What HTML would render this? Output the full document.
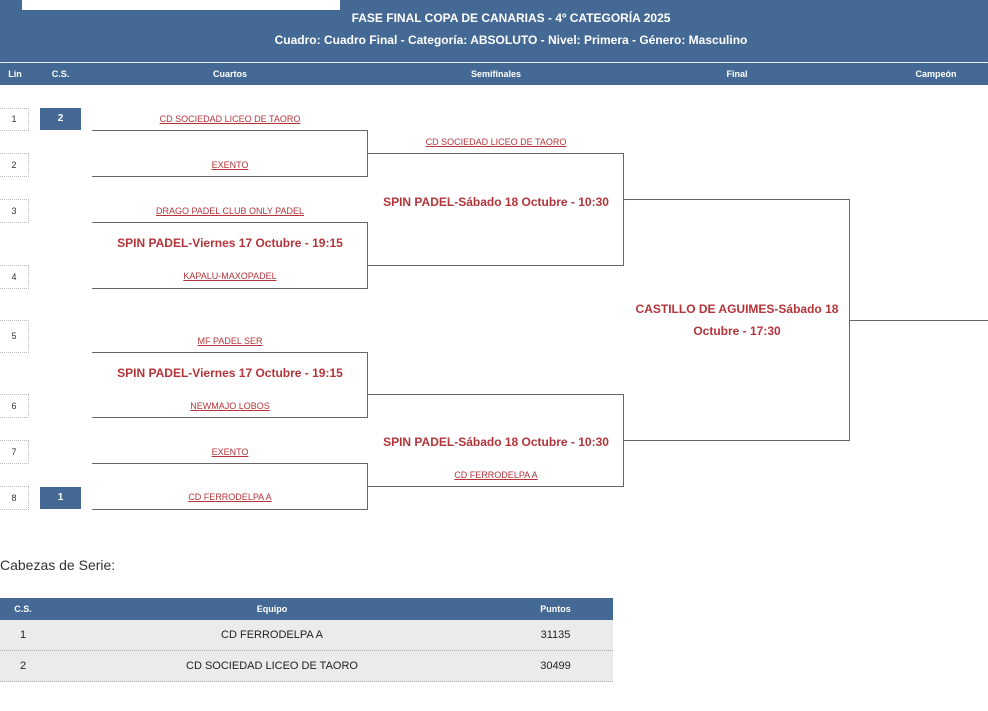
<!DOCTYPE html>
<html><head><meta charset="utf-8"><style>
body{margin:0;width:988px;height:711px;position:relative;overflow:hidden;background:#fff;font-family:"Liberation Sans",Arial,sans-serif;}
.a{position:absolute}
.hd{background:#446994;color:#fff;font-weight:bold}
.c{position:absolute;text-align:center;white-space:nowrap}
.tm{font-size:9px;color:#b5343a;text-decoration:underline;line-height:12px}
.mt{font-size:12px;font-weight:bold;color:#b5343a;line-height:14px}
.h{position:absolute;height:0;border-top:1px solid #666}
.v{position:absolute;width:0;border-left:1px solid #666}
.lb{position:absolute;left:0;width:29px;border:1px dotted #bbb;border-left:none;font-size:9px;color:#333;text-align:center;box-sizing:border-box}
.cs{position:absolute;left:40px;width:41px;height:22px;background:#446994;color:#fff;font-size:10px;font-weight:bold;text-align:center;line-height:22px}
</style></head><body>
<div class="a hd" style="left:0;top:0;width:988px;height:62px"></div>
<div class="a" style="left:22px;top:0;width:318px;height:10px;background:#fff"></div>
<div class="c" style="left:350px;width:322px;top:11px;font-size:12px;font-weight:bold;color:#fff;line-height:14px">FASE FINAL COPA DE CANARIAS - 4º CATEGORÍA 2025</div>
<div class="c" style="left:200px;width:622px;top:33px;font-size:12px;font-weight:bold;color:#fff;line-height:14px">Cuadro: Cuadro Final - Categoría: ABSOLUTO - Nivel: Primera - Género: Masculino</div>
<div class="a hd" style="left:0;top:63px;width:988px;height:22px"></div>
<div class="a" style="left:0;top:62px;width:988px;border-top:1px dotted #ddd"></div>
<div class="c" style="left:0;width:30px;top:69px;font-size:9px;font-weight:bold;color:#fff">Lin</div>
<div class="c" style="left:40px;width:41px;top:69px;font-size:9px;font-weight:bold;color:#fff">C.S.</div>
<div class="c" style="left:92px;width:276px;top:69px;font-size:9px;font-weight:bold;color:#fff">Cuartos</div>
<div class="c" style="left:368px;width:256px;top:69px;font-size:9px;font-weight:bold;color:#fff">Semifinales</div>
<div class="c" style="left:624px;width:226px;top:69px;font-size:9px;font-weight:bold;color:#fff">Final</div>
<div class="c" style="left:890px;width:92px;top:69px;font-size:9px;font-weight:bold;color:#fff">Campeón</div>

<div class="lb" style="top:108px;height:23px;line-height:21px">1</div>
<div class="lb" style="top:153px;height:24px;line-height:22px">2</div>
<div class="lb" style="top:199px;height:24px;line-height:22px">3</div>
<div class="lb" style="top:265px;height:24px;line-height:22px">4</div>
<div class="lb" style="top:320px;height:33px;line-height:31px">5</div>
<div class="lb" style="top:394px;height:24px;line-height:22px">6</div>
<div class="lb" style="top:440px;height:24px;line-height:22px">7</div>
<div class="lb" style="top:486px;height:24px;line-height:22px">8</div>
<div class="cs" style="top:108px">2</div>
<div class="cs" style="top:487px">1</div>

<div class="h" style="left:92px;width:276px;top:130px"></div>
<div class="h" style="left:92px;width:276px;top:176px"></div>
<div class="v" style="left:367px;top:130px;height:47px"></div>
<div class="h" style="left:92px;width:276px;top:222px"></div>
<div class="h" style="left:92px;width:276px;top:288px"></div>
<div class="v" style="left:367px;top:222px;height:67px"></div>
<div class="h" style="left:92px;width:276px;top:352px"></div>
<div class="h" style="left:92px;width:276px;top:417px"></div>
<div class="v" style="left:367px;top:352px;height:66px"></div>
<div class="h" style="left:92px;width:276px;top:463px"></div>
<div class="h" style="left:92px;width:276px;top:509px"></div>
<div class="v" style="left:367px;top:463px;height:47px"></div>
<div class="h" style="left:367px;width:257px;top:153px"></div>
<div class="h" style="left:367px;width:257px;top:265px"></div>
<div class="v" style="left:623px;top:153px;height:113px"></div>
<div class="h" style="left:367px;width:257px;top:394px"></div>
<div class="h" style="left:367px;width:257px;top:486px"></div>
<div class="v" style="left:623px;top:394px;height:93px"></div>
<div class="h" style="left:623px;width:227px;top:199px"></div>
<div class="h" style="left:623px;width:227px;top:440px"></div>
<div class="v" style="left:849px;top:199px;height:242px"></div>
<div class="h" style="left:849px;width:139px;top:320px"></div>

<div class="c tm" style="left:92px;width:276px;top:113px">CD SOCIEDAD LICEO DE TAORO</div>
<div class="c tm" style="left:92px;width:276px;top:159px">EXENTO</div>
<div class="c tm" style="left:92px;width:276px;top:205px">DRAGO PADEL CLUB ONLY PADEL</div>
<div class="c mt" style="left:92px;width:276px;top:236px">SPIN PADEL-Viernes 17 Octubre - 19:15</div>
<div class="c tm" style="left:92px;width:276px;top:270px">KAPALU-MAXOPADEL</div>
<div class="c tm" style="left:92px;width:276px;top:335px">MF PADEL SER</div>
<div class="c mt" style="left:92px;width:276px;top:366px">SPIN PADEL-Viernes 17 Octubre - 19:15</div>
<div class="c tm" style="left:92px;width:276px;top:400px">NEWMAJO LOBOS</div>
<div class="c tm" style="left:92px;width:276px;top:446px">EXENTO</div>
<div class="c tm" style="left:92px;width:276px;top:491px">CD FERRODELPA A</div>

<div class="c tm" style="left:368px;width:256px;top:136px">CD SOCIEDAD LICEO DE TAORO</div>
<div class="c mt" style="left:368px;width:256px;top:195px">SPIN PADEL-Sábado 18 Octubre - 10:30</div>
<div class="c mt" style="left:368px;width:256px;top:435px">SPIN PADEL-Sábado 18 Octubre - 10:30</div>
<div class="c tm" style="left:368px;width:256px;top:469px">CD FERRODELPA A</div>

<div class="c mt" style="left:624px;width:226px;top:298px;white-space:normal;line-height:22px">CASTILLO DE AGUIMES-Sábado 18 Octubre - 17:30</div>

<div class="a" style="left:0;top:557px;font-size:14px;color:#333">Cabezas de Serie:</div>
<div class="a hd" style="left:0;top:598px;width:613px;height:22px"></div>
<div class="c" style="left:0;width:46px;top:604px;font-size:9px;font-weight:bold;color:#fff">C.S.</div>
<div class="c" style="left:46px;width:452px;top:604px;font-size:9px;font-weight:bold;color:#fff">Equipo</div>
<div class="c" style="left:498px;width:115px;top:604px;font-size:9px;font-weight:bold;color:#fff">Puntos</div>
<div class="a" style="left:0;top:620px;width:613px;height:30px;background:#ebebeb;border-bottom:1px dotted #aaa"></div>
<div class="a" style="left:0;top:651px;width:613px;height:30px;background:#ebebeb;border-bottom:1px dotted #aaa"></div>
<div class="c" style="left:0;width:46px;top:629px;font-size:11px;color:#222">1</div>
<div class="c" style="left:46px;width:452px;top:629px;font-size:11px;color:#222">CD FERRODELPA A</div>
<div class="c" style="left:498px;width:115px;top:629px;font-size:11px;color:#222">31135</div>
<div class="c" style="left:0;width:46px;top:660px;font-size:11px;color:#222">2</div>
<div class="c" style="left:46px;width:452px;top:660px;font-size:11px;color:#222">CD SOCIEDAD LICEO DE TAORO</div>
<div class="c" style="left:498px;width:115px;top:660px;font-size:11px;color:#222">30499</div>
</body></html>
